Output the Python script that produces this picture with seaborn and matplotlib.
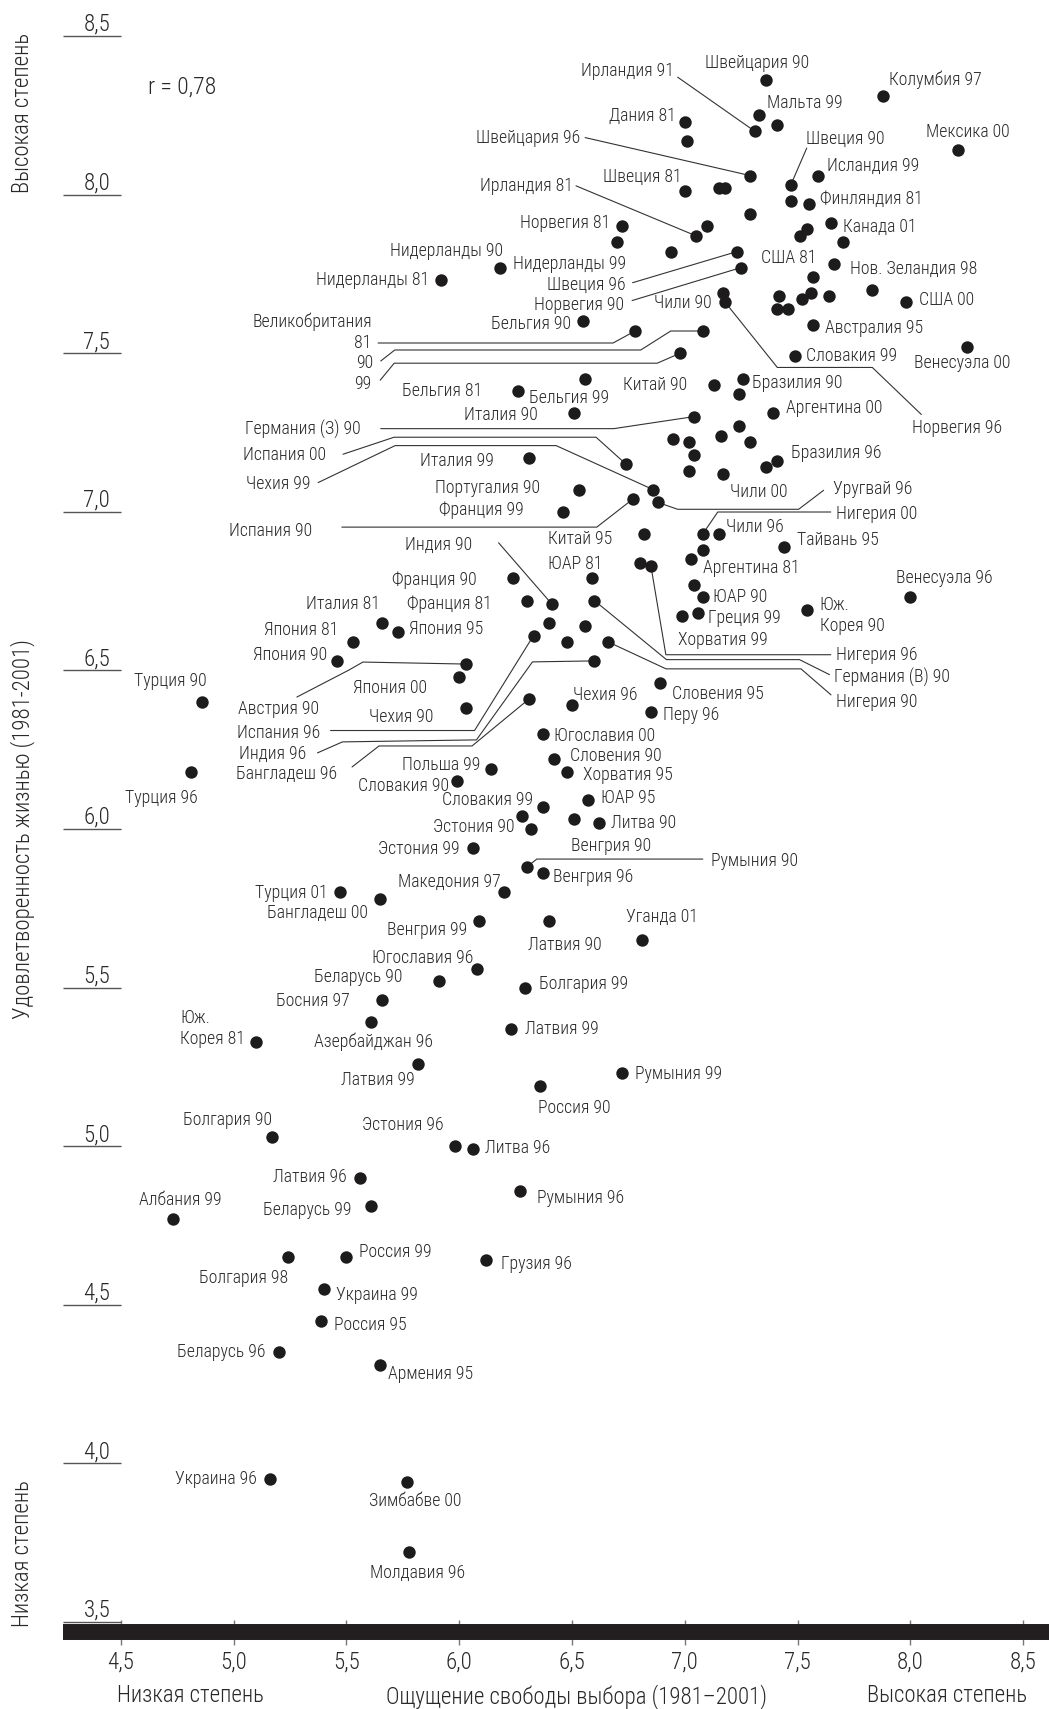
import numpy as np
import pandas as pd
import matplotlib
matplotlib.use("Agg")
import matplotlib.pyplot as plt
import seaborn as sns
from matplotlib import font_manager

# ---------------- data ----------------
labels = [
    "Швейцария 90", "Колумбия 97", "Мальта 99", "", "Ирландия 91",
    "Дания 81", "", "Мексика 00", "Швейцария 96", "Исландия 99",
    "Швеция 90", "", "", "Швеция 81", "",
    "Финляндия 81", "", "Канада 01", "", "Ирландия 81",
    "", "", "", "Норвегия 81", "Нидерланды 99",
    "", "Нидерланды 90", "Нидерланды 81", "Швеция 96", "Норвегия 90",
    "США 81", "", "Нов. Зеландия 98", "", "",
    "", "", "", "", "США 00",
    "Чили 90", "Норвегия 96", "Бельгия 90", "Великобритания 81", "Великобритания 90",
    "Великобритания 99", "Австралия 95", "Венесуэла 00", "Словакия 99", "Бельгия 99",
    "Бельгия 81", "Китай 90", "Бразилия 90", "", "Аргентина 00",
    "Италия 90", "Германия (З) 90", "", "", "",
    "", "", "", "", "Бразилия 96",
    "", "Чили 00", "Италия 99", "Испания 00", "Португалия 90",
    "Чехия 99", "Уругвай 96", "Испания 90", "Франция 99", "Китай 95",
    "Нигерия 00", "Чили 96", "Тайвань 95", "", "Аргентина 81",
    "ЮАР 81", "", "Нигерия 96", "", "ЮАР 90",
    "Греция 99", "Хорватия 99", "Юж. Корея 90", "Венесуэла 96", "Индия 90",
    "Германия (В) 90", "Нигерия 90", "Франция 90", "Франция 81", "Италия 81",
    "Япония 95", "Япония 81", "Япония 90", "", "",
    "", "Испания 96", "Индия 96", "Австрия 90", "Япония 00",
    "Чехия 90", "Бангладеш 96", "Чехия 96", "Словения 95", "Перу 96",
    "Турция 90", "Турция 96", "Югославия 00", "Словения 90", "Хорватия 95",
    "Польша 99", "Словакия 90", "ЮАР 95", "Словакия 99", "",
    "Эстония 90", "Венгрия 90", "Литва 90", "Эстония 99", "Румыния 90",
    "Венгрия 96", "Македония 97", "Турция 01", "Бангладеш 00", "Венгрия 99",
    "Латвия 90", "Уганда 01", "Югославия 96", "Беларусь 90", "Болгария 99",
    "Босния 97", "Азербайджан 96", "Латвия 99", "Юж. Корея 81", "Латвия 99",
    "Румыния 99", "Россия 90", "Болгария 90", "Эстония 96", "Литва 96",
    "Латвия 96", "Румыния 96", "Беларусь 99", "Албания 99", "Болгария 98",
    "Россия 99", "Грузия 96", "Украина 99", "Россия 95", "Беларусь 96",
    "Армения 95", "Украина 96", "Зимбабве 00", "Молдавия 96",
]

freedom = [
    7.36, 7.88, 7.33, 7.41, 7.31,
    7.00, 7.01, 8.21, 7.29, 7.59,
    7.47, 7.15, 7.18, 7.00, 7.47,
    7.55, 7.29, 7.65, 7.10, 7.05,
    7.54, 7.51, 7.70, 6.72, 6.70,
    6.94, 6.18, 5.92, 7.23, 7.25,
    7.66, 7.57, 7.83, 7.56, 7.52,
    7.64, 7.42, 7.41, 7.46, 7.98,
    7.17, 7.18, 6.55, 6.78, 7.08,
    6.98, 7.57, 8.25, 7.49, 6.56,
    6.26, 7.13, 7.26, 7.24, 7.39,
    6.51, 7.04, 7.24, 6.95, 7.02,
    7.16, 7.29, 7.04, 7.02, 7.41,
    7.36, 7.17, 6.31, 6.74, 6.53,
    6.86, 6.88, 6.77, 6.46, 6.82,
    7.08, 7.15, 7.44, 7.08, 7.03,
    6.59, 6.80, 6.85, 7.04, 7.08,
    7.06, 6.99, 7.54, 8.00, 6.41,
    6.60, 6.66, 6.24, 6.30, 5.66,
    5.73, 5.53, 5.46, 6.40, 6.56,
    6.48, 6.33, 6.60, 6.03, 6.00,
    6.03, 6.31, 6.50, 6.89, 6.85,
    4.86, 4.81, 6.37, 6.42, 6.48,
    6.14, 5.99, 6.57, 6.37, 6.28,
    6.32, 6.51, 6.62, 6.06, 6.30,
    6.37, 6.20, 5.47, 5.65, 6.09,
    6.40, 6.81, 6.08, 5.91, 6.29,
    5.66, 5.61, 6.23, 5.10, 5.82,
    6.72, 6.36, 5.17, 5.98, 6.06,
    5.56, 6.27, 5.61, 4.73, 5.24,
    5.50, 6.12, 5.40, 5.39, 5.20,
    5.65, 5.16, 5.77, 5.78,
]

satisfaction = [
    8.36, 8.31, 8.25, 8.22, 8.20,
    8.23, 8.17, 8.14, 8.06, 8.06,
    8.03, 8.02, 8.02, 8.01, 7.98,
    7.97, 7.94, 7.91, 7.90, 7.87,
    7.89, 7.87, 7.85, 7.90, 7.85,
    7.82, 7.77, 7.73, 7.82, 7.77,
    7.78, 7.74, 7.70, 7.69, 7.67,
    7.68, 7.68, 7.64, 7.64, 7.66,
    7.69, 7.66, 7.60, 7.57, 7.57,
    7.50, 7.59, 7.52, 7.49, 7.42,
    7.38, 7.40, 7.42, 7.37, 7.31,
    7.31, 7.30, 7.27, 7.23, 7.22,
    7.24, 7.22, 7.18, 7.13, 7.16,
    7.14, 7.12, 7.17, 7.15, 7.07,
    7.07, 7.03, 7.04, 7.00, 6.93,
    6.93, 6.93, 6.89, 6.88, 6.85,
    6.79, 6.84, 6.83, 6.77, 6.73,
    6.68, 6.67, 6.69, 6.73, 6.71,
    6.72, 6.59, 6.79, 6.72, 6.65,
    6.62, 6.59, 6.53, 6.65, 6.64,
    6.59, 6.61, 6.53, 6.52, 6.48,
    6.38, 6.41, 6.39, 6.46, 6.37,
    6.40, 6.18, 6.30, 6.22, 6.18,
    6.19, 6.15, 6.09, 6.07, 6.04,
    6.00, 6.03, 6.02, 5.94, 5.88,
    5.86, 5.80, 5.80, 5.78, 5.71,
    5.71, 5.65, 5.56, 5.52, 5.50,
    5.46, 5.39, 5.37, 5.33, 5.26,
    5.23, 5.19, 5.03, 5.00, 4.99,
    4.90, 4.86, 4.81, 4.77, 4.65,
    4.65, 4.64, 4.55, 4.45, 4.35,
    4.31, 3.95, 3.94, 3.72,
]

x_ticks = [4.5, 5.0, 5.5, 6.0, 6.5, 7.0, 7.5, 8.0, 8.5]
y_ticks = [3.5, 4.0, 4.5, 5.0, 5.5, 6.0, 6.5, 7.0, 7.5, 8.0, 8.5]
r_text = "r = 0,78"
x_title = "Ощущение свободы выбора (1981–2001)"
y_title = "Удовлетворенность жизнью (1981-2001)"
low_text = "Низкая степень"
high_text = "Высокая степень"

# ---------------- layout (label offsets in pixels: dx right, dy down) ----------------
label_offsets = [
    (-9, -17, "center"), (6, -17, "left"), (8, -12, "left"), None, (-81, -60, "right"),
    (-9, -6, "right"), None, (10, -18, "center"), (-170, -38, "right"), (9, -10, "left"),
    (15, -46, "left"), None, None, (-3, -14, "right"), None,
    (11, -5, "left"), None, (12, 4, "left"), None, (-123, -50, "right"),
    None, None, None, (-11, -3, "right"), (9, 22, "right"),
    None, (3, -17, "right"), (-12, 0, "right"), (-111, 33, "right"), (-117, 37, "right"),
    (-17, -6, "right"), None, (-22, -21, "left"), None, None,
    None, None, None, None, (13, -2, "left"),
    (-11, 10, "right"), (187, 126, "left"), (-12, 3, "right"), (-264, 12, "right"), (-330, 32, "right"),
    (-309, 31, "right"), (12, 3, "left"), (-5, 16, "center"), (11, 0, "left"), (-16, 19, "center"),
    (-36, 0, "right"), (-27, 0, "right"), (9, 4, "left"), None, (13, -5, "left"),
    (-36, 2, "right"), (-333, 13, "right"), None, None, None,
    None, None, None, None, (14, -8, "left"),
    None, (7, 18, "left"), (-35, 3, "right"), (-300, -9, "right"), (-39, -2, "right"),
    (-343, -6, "right"), (175, -13, "left"), (-321, 32, "right"), (-39, -2, "right"), (-32, 5, "right"),
    (133, -20, "left"), (7, -7, "left"), (13, -7, "left"), None, (12, 9, "left"),
    (10, -14, "right"), None, (185, 89, "left"), None, (10, 0, "left"),
    (10, 5, "left"), (-4, 24, "left"), (13, 5, "left"), (-14, -19, "left"), (-79, -59, "right"),
    (240, 77, "left"), (228, 60, "left"), (-37, 2, "right"), (-35, 3, "right"), (-2, -19, "right"),
    (11, -3, "left"), (-15, -12, "right"), (-10, -6, "right"), None, None,
    None, (-213, 97, "right"), (-288, 93, "right"), (-147, 45, "right"), (-32, 11, "right"),
    (-32, 9, "right"), (-192, 75, "right"), (1, -10, "left"), (12, 11, "left"), (12, 3, "left"),
    (5, -21, "right"), (7, 26, "right"), (11, 2, "left"), (16, -3, "left"), (16, 3, "left"),
    (-10, -4, "right"), (-8, 5, "right"), (13, -2, "left"), (-9, -7, "right"), None,
    (-17, -2, "right"), (-3, 27, "left"), (12, 0, "left"), (-13, 1, "right"), (184, -6, "left"),
    (10, 4, "left"), (-3, -11, "right"), (-12, 1, "right"), (-12, 14, "right"), (-12, 9, "right"),
    (15, 24, "center"), (20, -23, "center"), (-4, -11, "right"), (-36, -4, "right"), (14, -4, "left"),
    (-33, 1, "right"), (2, 19, "center"), (14, 0, "left"), (-11, -13, "right"), (-4, 16, "right"),
    (13, 1, "left"), (-2, 22, "left"), (0, -17, "right"), (-11, -21, "right"), (12, -1, "left"),
    (-13, -1, "right"), (17, 7, "left"), (-20, 4, "right"), (8, -19, "center"), (0, 21, "right"),
    (13, -5, "left"), (15, 4, "left"), (12, 6, "left"), (13, 4, "left"), (-13, 0, "right"),
    (8, 9, "left"), (-13, 0, "right"), (8, 19, "center"), (8, 21, "center"),
]

display_text = {
    "Великобритания 81": "81",
    "Великобритания 90": "90",
    "Великобритания 99": "99",
    "Юж. Корея 90": "Юж.\nКорея 90",
    "Юж. Корея 81": "Юж.\nКорея 81",
}

# leader polylines: pixel offsets from the point (dx right, dy down), ending at the point
leaders = {
    "Ирландия 91": [(-77, -54), (0, 0)],
    "Швейцария 96": [(-165, -38), (0, 0)],
    "Швеция 90": [(16, -37), (0, 0)],
    "Ирландия 81": [(-120, -50), (0, 0)],
    "Швеция 96": [(-104, 31), (0, 0)],
    "Норвегия 90": [(-109, 33), (0, 0)],
    "Норвегия 96": [(196, 112), (147, 65), (52, 65), (0, 0)],
    "Великобритания 81": [(-257, 12), (-22, 12), (0, 0)],
    "Великобритания 90": [(-322, 30), (-308, 19), (-62, 19), (-32, 0), (0, 0)],
    "Великобритания 99": [(-300, 27), (-286, 10), (-23, 10), (0, 0)],
    "Германия (З) 90": [(-313, 12), (-80, 12), (0, 0)],
    "Испания 00": [(-283, -10), (-232, -27), (-30, -27), (0, 0)],
    "Чехия 99": [(-335, -7), (-258, -44), (-97, -44), (0, 0)],
    "Уругвай 96": [(166, -12), (141, 7), (20, 7), (0, 0)],
    "Испания 90": [(-291, 28), (-36, 28), (0, 0)],
    "Нигерия 00": [(128, -22), (15, -22), (0, 0)],
    "Нигерия 96": [(180, 89), (15, 89), (0, 0)],
    "Индия 90": [(-53, -61), (0, 0)],
    "Германия (В) 90": [(235, 74), (205, 59), (72, 59), (0, 0)],
    "Нигерия 90": [(223, 53), (193, 27), (58, 27), (0, 0)],
    "Испания 96": [(-203, 95), (-59, 95), (0, 0)],
    "Индия 96": [(-277, 92), (-252, 81), (-118, 79), (-62, 1), (0, 0)],
    "Австрия 90": [(-169, 33), (-117, 6), (-103, -2), (0, 0)],
    "Бангладеш 96": [(-177, 68), (-150, 47), (-57, 47), (0, 0)],
    "Румыния 90": [(176, -8), (10, -8), (0, 0)],
}

# ---------------- style ----------------
sns.set_theme(style="white")
avail = {f.name for f in font_manager.fontManager.ttflist}
base = "DejaVu Sans"
for cand in ["Liberation Sans Narrow", "Roboto Condensed", "Open Sans Condensed",
             "Roboto", "Liberation Sans"]:
    if cand in avail:
        base = cand
        break
plt.rcParams["font.family"] = [base, "DejaVu Sans"]
light_ok = any(f.name == base and isinstance(f.weight, (int, float)) and f.weight <= 350
               for f in font_manager.fontManager.ttflist) or \
           any(f.name == base and str(f.weight).lower() in ("light", "300")
               for f in font_manager.fontManager.ttflist)
WEIGHT = "light" if light_ok else "normal"
plt.rcParams["font.weight"] = WEIGHT
plt.rcParams["axes.labelweight"] = WEIGHT
narrow = ("Narrow" in base) or ("Condensed" in base)
lab_fs = 12.8 if narrow else 10.8
big_fs = 16.5 if narrow else 14.0

TEXT = "#2a2727"
INK = "#1d1b1c"

fig = plt.figure(figsize=(10.49, 17.09), dpi=100)
fig.patch.set_facecolor("white")
ax = fig.add_axes([63 / 1049, 77 / 1709, 986 / 1049, 1632 / 1709])
ax.set_facecolor("white")

df = pd.DataFrame({"label": labels, "freedom": freedom, "satisfaction": satisfaction})
sns.scatterplot(data=df, x="freedom", y="satisfaction", ax=ax, s=80, color=INK,
                linewidth=0, zorder=4, legend=False)

ax.set_xlim(4.2442, 8.6148)
ax.set_ylim(3.4685, 8.6135)

for side in ["left", "top", "right"]:
    ax.spines[side].set_visible(False)
ax.spines["bottom"].set_linewidth(11.5)
ax.spines["bottom"].set_color("#231f20")
ax.spines["bottom"].set_capstyle("butt")

fmt = lambda v: f"{v:.1f}".replace(".", ",")
ax.set_xticks(x_ticks)
ax.set_xticklabels([fmt(v) for v in x_ticks], fontweight=WEIGHT)
ax.set_yticks(y_ticks)
ax.set_yticklabels([fmt(v) for v in y_ticks], fontweight=WEIGHT)
ax.tick_params(axis="x", direction="inout", length=18, width=1, color="#777777",
               pad=4, labelsize=big_fs, labelcolor=TEXT, bottom=True)
ax.tick_params(axis="y", direction="in", length=41.8, width=1, color="#555555",
               pad=-34, labelsize=big_fs, labelcolor=TEXT, left=True)
for t in ax.get_yticklabels():
    t.set_va("bottom")
    t.set_ha("right")

ax.set_xlabel(x_title, fontsize=big_fs, color=TEXT, fontweight=WEIGHT)
ax.xaxis.set_label_coords((576 - 63) / 986, -52 / 1632)
ax.set_ylabel(y_title, fontsize=big_fs, color=TEXT, fontweight=WEIGHT)
ax.yaxis.label.set_va("center")
ax.yaxis.set_label_coords((23 - 63) / 986, (1709 - 829 - 77) / 1632)

fig.text(190 / 1049, 1 - 1695 / 1709, low_text, ha="center", va="center",
         fontsize=big_fs, color=TEXT, fontweight=WEIGHT)
fig.text(947 / 1049, 1 - 1695 / 1709, high_text, ha="center", va="center",
         fontsize=big_fs, color=TEXT, fontweight=WEIGHT)
fig.text(23 / 1049, 1 - 113 / 1709, high_text, ha="center", va="center",
         rotation=90, fontsize=big_fs, color=TEXT, fontweight=WEIGHT)
fig.text(23 / 1049, 1 - 1554 / 1709, low_text, ha="center", va="center",
         rotation=90, fontsize=big_fs, color=TEXT, fontweight=WEIGHT)

ax.text(4.62, 8.34, r_text, ha="left", va="center", fontsize=big_fs + 0.5, color=TEXT,
        fontweight=WEIGHT)

# leaders
inv = ax.transData.inverted()
for i, lab in enumerate(labels):
    if lab in leaders:
        px, py = ax.transData.transform((freedom[i], satisfaction[i]))
        pts = np.array([(px + ox, py - oy) for ox, oy in leaders[lab]])
        d = inv.transform(pts)
        ax.plot(d[:, 0], d[:, 1], color="#333333", lw=0.8, zorder=2,
                solid_joinstyle="miter")

# labels
for i, lab in enumerate(labels):
    pos = label_offsets[i]
    if not lab or pos is None:
        continue
    dx, dy, ha = pos
    ax.annotate(display_text.get(lab, lab), xy=(freedom[i], satisfaction[i]),
                xytext=(dx, -dy), textcoords="offset pixels", ha=ha, va="center",
                fontsize=lab_fs, color=TEXT, multialignment="left", zorder=5,
                fontweight=WEIGHT)
    if lab == "Великобритания 81":
        ax.annotate("Великобритания", xy=(freedom[i], satisfaction[i]),
                    xytext=(dx + 1, -(dy - 21)), textcoords="offset pixels",
                    ha="right", va="center", fontsize=lab_fs, color=TEXT, zorder=5,
                    fontweight=WEIGHT)

fig.savefig("out.png", dpi=100)
